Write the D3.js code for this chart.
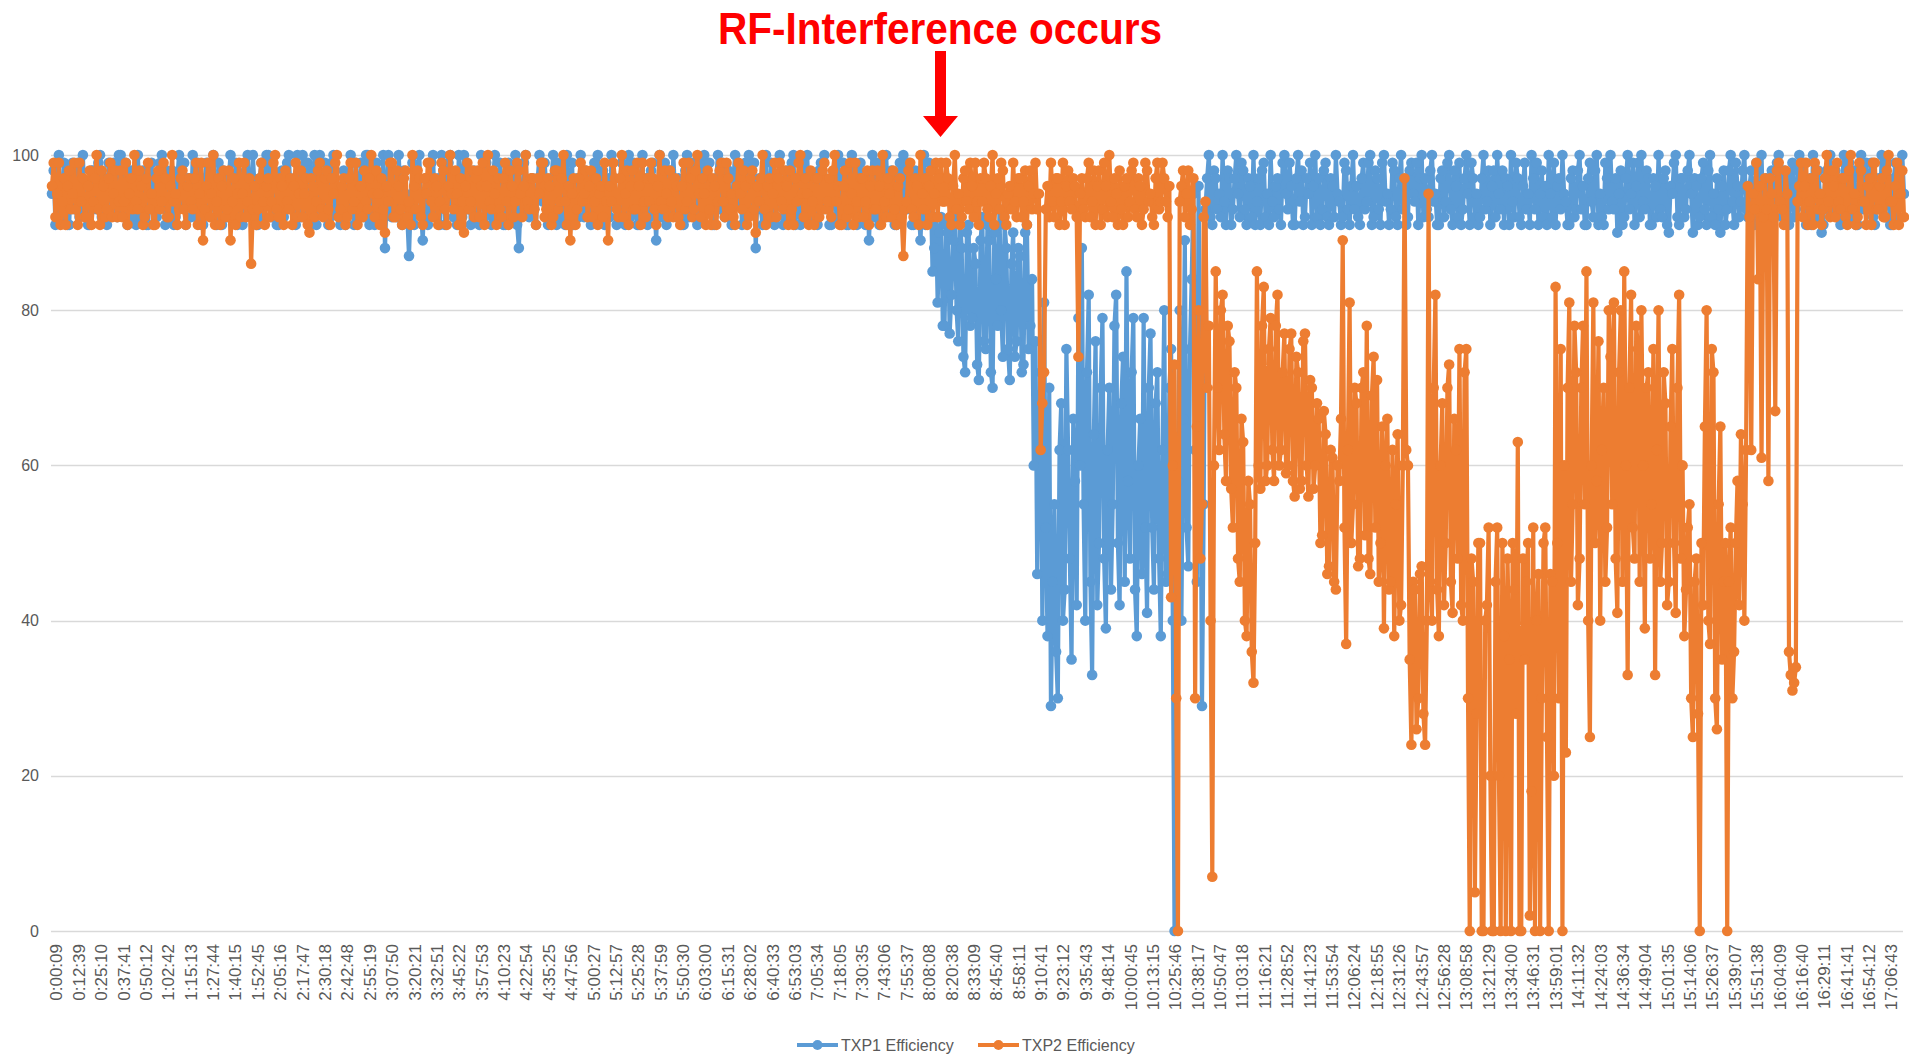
<!DOCTYPE html>
<html>
<head>
<meta charset="utf-8">
<script src="https://cdn.jsdelivr.net/npm/d3@7"></script>
<style>
  body { margin: 0; background: #fff; }
  svg text { font-family: "Liberation Sans", Arial, sans-serif; }
</style>
</head>
<body>
<div id="chart"></div>
<script>
// chart text
const chartTitle = "RF-Interference occurs";
const seriesNames = ["TXP1 Efficiency", "TXP2 Efficiency"];
const yTicks = [0, 20, 40, 60, 80, 100];

// category labels shown on the x axis
const timeLabels = ["0:00:09","0:12:39","0:25:10","0:37:41","0:50:12","1:02:42","1:15:13","1:27:44","1:40:15","1:52:45",
  "2:05:16","2:17:47","2:30:18","2:42:48","2:55:19","3:07:50","3:20:21","3:32:51","3:45:22","3:57:53",
  "4:10:23","4:22:54","4:35:25","4:47:56","5:00:27","5:12:57","5:25:28","5:37:59","5:50:30","6:03:00",
  "6:15:31","6:28:02","6:40:33","6:53:03","7:05:34","7:18:05","7:30:35","7:43:06","7:55:37","8:08:08",
  "8:20:38","8:33:09","8:45:40","8:58:11","9:10:41","9:23:12","9:35:43","9:48:14","10:00:45","10:13:15",
  "10:25:46","10:38:17","10:50:47","11:03:18","11:16:21","11:28:52","11:41:23","11:53:54","12:06:24","12:18:55",
  "12:31:26","12:43:57","12:56:28","13:08:58","13:21:29","13:34:00","13:46:31","13:59:01","14:11:32","14:24:03",
  "14:36:34","14:49:04","15:01:35","15:14:06","15:26:37","15:39:07","15:51:38","16:04:09","16:16:40","16:29:11",
  "16:41:41","16:54:12","17:06:43"];

// TXP1 efficiency (%), one row = 40 samples
const txp1 = [
  95,98,91,96,100,92,93,99,97,91,91,97,99,93,94,99,92,97,100,93,96,91,91,98,98,94,93,99,100,92,95,97,91,99,97,93,99,94,92,100,
  100,93,94,99,91,96,98,92,96,91,100,95,92,98,95,91,91,97,99,94,97,92,93,99,100,95,91,98,96,92,98,91,92,97,100,95,94,99,91,97,
  97,92,100,94,92,99,95,91,91,97,99,93,94,98,100,92,91,99,96,91,98,94,92,97,100,93,95,99,91,96,97,91,93,98,100,95,92,100,96,91,
  91,97,99,92,95,100,100,94,92,98,97,91,91,96,98,92,94,99,100,95,93,97,91,100,96,92,100,94,92,99,98,91,95,100,91,97,100,93,94,99,
  97,91,92,99,100,93,95,92,91,96,98,91,93,97,100,94,91,99,96,92,99,94,92,100,100,91,94,97,91,99,97,92,95,100,88,95,100,93,92,98,
  96,92,100,95,91,98,95,92,87,94,99,91,93,97,100,93,89,95,97,91,92,99,100,93,94,97,91,100,98,91,96,99,100,94,92,97,91,100,97,92,
  100,95,93,98,91,97,98,92,95,91,100,96,92,99,97,93,91,97,100,92,94,99,96,91,91,95,99,94,93,98,100,91,88,94,95,99,100,93,92,96,
  97,93,91,97,100,95,94,99,96,91,92,97,100,94,91,99,98,92,95,91,100,96,93,99,91,95,97,92,100,94,92,98,96,92,91,97,99,93,100,95,
  93,98,91,95,97,92,100,94,95,91,92,97,99,93,91,98,100,92,96,99,94,91,91,97,100,93,97,91,92,98,99,94,89,96,100,92,95,99,91,97,
  98,93,100,95,92,97,96,91,91,98,100,92,94,99,97,93,91,96,99,92,100,94,93,99,95,91,91,97,100,93,96,99,92,95,98,92,91,97,100,94,
  95,98,91,96,99,92,100,94,93,99,88,95,97,93,91,97,100,92,94,99,96,91,92,97,100,94,91,96,98,92,95,99,100,91,93,97,91,99,97,93,
  100,94,92,97,96,92,91,98,99,93,100,95,94,91,91,97,97,92,100,94,93,99,95,91,91,97,100,93,98,91,92,99,96,93,91,97,89,95,100,92,
  94,99,91,96,97,92,100,94,92,98,96,91,91,97,99,93,100,95,93,99,95,91,91,98,97,93,89,95,100,91,92,99,96,85,88,92,81,90,92,78,
  78,91,90,77,82,89,93,80,76,92,88,74,72,90,91,78,79,88,86,73,71,89,92,76,75,91,89,72,70,90,84,78,93,80,74,91,88,75,71,86,
  90,74,76,88,87,72,73,90,91,75,78,84,60,76,46,65,72,40,81,52,38,70,29,45,55,36,30,62,68,40,44,75,62,48,35,66,58,42,79,60,
  88,55,40,72,82,45,33,64,76,42,50,70,79,48,39,62,70,44,55,78,82,50,42,68,74,45,85,58,48,72,79,44,38,60,66,46,79,52,41,70,
  77,52,44,68,72,48,38,62,80,45,46,70,75,40,0,55,58,80,40,66,89,52,47,75,84,95,62,45,96,70,29,55,93,97,100,92,91,98,97,93,
  95,92,100,94,91,98,97,91,93,97,100,95,92,99,98,93,91,97,96,92,100,91,94,97,91,98,99,92,95,91,100,94,92,96,97,93,91,99,100,95,
  93,99,96,91,91,97,100,94,98,91,92,97,95,99,91,96,100,92,97,91,93,98,99,92,91,97,96,92,100,95,94,91,92,99,98,93,91,96,100,93,
  96,92,91,97,99,93,94,99,100,91,92,98,97,93,91,99,100,94,95,91,93,99,98,92,91,97,100,93,96,91,92,98,99,95,94,99,91,97,100,92,
  97,93,92,98,100,94,95,91,91,97,98,92,94,99,100,93,91,98,96,92,99,91,93,97,100,95,91,99,97,92,95,91,92,97,100,93,94,98,91,96,
  98,92,100,95,93,98,91,97,96,91,100,94,92,99,97,92,91,96,99,93,95,91,100,97,93,99,91,95,98,92,96,91,100,95,92,99,91,96,97,93,
  100,95,94,91,91,97,98,92,93,98,100,93,96,91,91,97,99,94,92,98,100,91,95,92,91,99,97,93,100,94,93,97,90,95,98,91,92,97,100,93,
  95,99,91,96,99,92,100,94,93,98,97,91,91,97,96,92,100,93,92,97,98,91,90,96,95,99,100,92,91,97,97,92,93,98,100,95,90,97,96,91,
  92,97,99,93,91,98,100,92,95,91,97,93,90,96,98,91,93,98,100,94,91,99,96,92,94,98,100,93,92,96,98,92,91,99,97,93,100,91,93,97,
  91,96,98,92,95,99,100,94,92,98,96,91,91,97,99,92,93,98,100,95,94,99,91,96,97,91,100,94,92,98,95,90,91,97,98,93,100,96,93,98,
  96,92,91,97,100,93,94,99,92,96,98,91,91,97,100,93,95,99,93,97,99,92,91,96,97,93,100,95,92,99,96,91,91,97,99,92,94,98,100,95
];

// TXP2 efficiency (%), same samples
const txp2 = [
  96,99,92,95,99,91,94,97,91,96,98,93,95,99,93,91,99,94,97,92,92,96,98,91,94,97,100,93,91,98,96,92,93,97,99,92,95,98,92,94,
  98,92,94,99,91,95,97,93,100,94,93,98,96,91,92,97,99,93,95,91,91,97,98,93,94,99,97,92,92,96,100,94,95,91,93,97,98,93,91,96,
  97,94,93,97,99,91,95,99,89,93,96,99,92,95,100,91,94,97,91,96,98,92,93,98,89,94,97,91,95,99,92,95,99,92,94,97,86,93,96,91,
  93,97,99,94,91,96,97,92,94,99,100,93,92,97,96,91,98,94,93,97,91,96,99,92,95,98,92,95,97,91,90,97,96,92,94,98,99,93,92,97,
  98,93,91,97,95,99,100,92,93,96,97,91,92,97,99,93,94,99,91,96,96,92,98,94,93,97,100,95,92,98,95,91,97,93,90,96,94,99,99,92,
  92,98,96,93,91,97,98,92,94,91,100,96,93,98,97,92,91,97,95,99,99,94,92,97,96,91,94,99,98,93,91,96,100,95,93,98,95,91,97,94,
  90,96,99,93,94,98,92,97,98,92,96,99,91,96,100,94,93,98,95,91,97,93,92,97,99,94,91,98,96,92,94,99,98,95,92,96,100,94,93,97,
  97,93,91,97,95,99,99,92,93,97,96,91,92,98,98,93,94,97,100,94,91,96,89,95,97,91,93,97,99,94,95,98,92,96,98,92,94,97,91,95,
  96,92,99,94,89,96,94,99,97,93,92,97,100,92,95,98,91,96,98,93,93,99,96,91,99,94,92,97,94,99,97,93,91,96,100,94,93,98,95,92,
  98,94,92,97,96,92,91,96,99,93,94,99,97,92,93,98,100,95,92,97,95,91,98,93,91,97,96,91,94,98,99,94,92,99,97,93,95,92,91,96,
  99,95,93,98,96,91,92,97,98,93,90,96,94,97,100,93,91,96,97,92,95,99,92,97,99,94,93,98,96,91,98,93,91,97,94,99,100,95,92,97,
  95,91,98,94,91,97,97,92,93,98,99,93,94,97,92,98,100,94,96,91,91,96,98,92,93,99,95,91,99,94,92,97,97,92,94,98,91,96,98,93,
  93,98,96,91,100,94,92,97,95,92,98,93,91,96,97,92,87,93,94,98,99,93,92,97,96,91,100,95,93,97,91,96,98,92,95,99,92,97,99,94,
  94,99,97,92,91,96,100,93,95,91,92,97,98,94,93,99,96,92,99,94,91,97,94,99,97,93,92,96,100,91,95,97,93,99,98,92,91,95,96,93,
  99,94,92,97,97,92,94,98,91,96,98,93,95,99,93,95,62,68,72,93,96,92,99,94,92,97,97,91,94,99,91,96,98,94,93,97,96,92,74,95,
  97,93,92,97,99,92,94,98,91,96,98,91,93,99,96,92,100,94,92,97,95,91,98,93,91,96,97,92,94,98,99,93,92,97,96,91,93,99,98,94,
  95,92,91,97,99,93,94,99,97,94,92,96,43,60,73,30,0,94,96,98,92,95,98,91,93,97,30,65,80,48,55,92,94,70,78,40,7,60,85,70,
  62,80,82,64,58,78,76,57,52,72,70,48,45,66,63,40,38,58,55,36,32,50,85,60,57,78,83,58,60,75,79,62,58,78,82,60,62,72,77,59,
  60,75,77,58,56,74,72,57,58,76,77,60,56,71,70,57,60,68,66,50,51,67,64,46,47,62,61,45,44,60,58,66,89,52,37,62,81,50,55,70,
  68,47,48,70,72,51,78,48,46,69,74,52,71,45,50,65,39,60,66,44,45,62,38,55,64,40,42,60,97,62,60,35,24,45,44,26,30,46,47,28,
  24,40,95,45,40,70,82,44,38,60,68,42,50,70,73,45,41,66,62,48,75,42,40,72,75,30,0,48,45,5,28,50,50,0,0,40,42,52,20,0,
  0,45,52,20,0,50,38,0,48,35,0,50,44,28,63,0,0,48,35,45,50,2,18,52,0,40,46,0,30,50,52,25,0,46,45,20,83,50,30,75,
  0,60,23,70,81,45,55,78,72,42,48,70,78,55,85,40,25,60,81,50,58,76,40,62,70,45,52,80,74,55,81,48,41,72,80,45,85,60,33,70,
  82,52,48,78,75,45,80,60,39,70,72,48,55,75,33,62,80,45,50,72,68,42,45,65,75,50,41,70,82,48,60,38,44,52,55,30,25,45,48,28,
  0,50,42,65,80,40,37,75,72,30,26,55,65,35,45,50,0,45,52,30,36,50,58,42,64,55,40,62,96,92,62,95,93,99,84,96,61,92,97,93,
  58,97,95,92,67,98,99,94,93,91,98,95,36,33,31,32,34,94,96,99,92,96,99,91,94,97,91,99,98,93,95,91,93,97,100,94,92,98,96,92,
  99,94,93,97,97,92,91,98,100,93,95,91,92,99,98,94,94,91,96,97,91,99,99,93,93,96,97,92,92,98,100,94,94,91,96,99,91,95,98,92
];

const colors = ["#5b9bd5", "#ed7d31"];
const gridColor = "#d9d9d9";
const textColor = "#595959";

const W = 1909, H = 1057;
const plot = {left: 51, right: 1903, top: 155, bottom: 931};

const svg = d3.select("#chart").append("svg")
  .attr("width", W).attr("height", H);

const y = d3.scaleLinear().domain([0, 100]).range([plot.bottom, plot.top]);
const xLab = d3.scalePoint().domain(timeLabels).range([56, 1891]);

// gridlines
svg.append("g").selectAll("line").data(yTicks).enter().append("line")
  .attr("x1", plot.left).attr("x2", plot.right)
  .attr("y1", d => Math.round(y(d)) + 0.5).attr("y2", d => Math.round(y(d)) + 0.5)
  .attr("stroke", gridColor).attr("stroke-width", 1.3);

// y axis labels
const yAxis = d3.axisLeft(y).tickValues(yTicks).tickSize(0).tickPadding(12);
const gy = svg.append("g").attr("transform", "translate(" + plot.left + ",0)").call(yAxis);
gy.select(".domain").remove();
gy.selectAll("text").attr("fill", textColor).style("font-size", "16px");

// x axis labels, rotated
const xAxis = d3.axisBottom(xLab).tickSize(0);
const gx = svg.append("g").attr("transform", "translate(0," + plot.bottom + ")").call(xAxis);
gx.select(".domain").remove();
gx.selectAll("text")
  .attr("fill", textColor).style("font-size", "17px")
  .attr("text-anchor", "end")
  .attr("transform", "rotate(-90)")
  .attr("x", -13).attr("y", 0).attr("dy", "0.35em");

// series: line with a round marker on every sample
[txp1, txp2].forEach(function(vals, k) {
  const x = d3.scaleLinear().domain([0, vals.length - 1]).range([52, 1904]);
  const line = d3.line().x((d, i) => x(i)).y(d => y(d));
  const g = svg.append("g").attr("class", "series-" + k);
  g.append("path").datum(vals)
    .attr("d", line)
    .attr("fill", "none")
    .attr("stroke", colors[k])
    .attr("stroke-width", 4.2)
    .attr("stroke-linejoin", "round");
  g.selectAll("circle").data(vals).enter().append("circle")
    .attr("cx", (d, i) => x(i))
    .attr("cy", d => y(d))
    .attr("r", 5.3)
    .attr("fill", colors[k]);
});

// annotation
svg.append("text")
  .attr("x", 940).attr("y", 44)
  .attr("text-anchor", "middle")
  .attr("fill", "#ff0000")
  .style("font-size", "44px").style("font-weight", "bold")
  .attr("textLength", 444).attr("lengthAdjust", "spacingAndGlyphs")
  .text(chartTitle);

svg.append("path")
  .attr("d", "M935,51 L946,51 L946,116 L958,116 L940.5,137 L923,116 L935,116 Z")
  .attr("fill", "#ff0000");

// legend
const legend = svg.append("g").attr("transform", "translate(797,1045)");
const items = legend.selectAll("g").data(seriesNames).enter().append("g")
  .attr("transform", (d, i) => "translate(" + (i * 181) + ",0)");
items.append("line").attr("x1", 0).attr("x2", 41).attr("y1", 0).attr("y2", 0)
  .attr("stroke", (d, i) => colors[i]).attr("stroke-width", 4);
items.append("circle").attr("cx", 20.5).attr("cy", 0).attr("r", 5)
  .attr("fill", (d, i) => colors[i]);
items.append("text").attr("x", 44).attr("y", 0).attr("dy", "0.35em")
  .attr("fill", textColor).style("font-size", "16px")
  .text(d => d);
</script>
</body>
</html>
